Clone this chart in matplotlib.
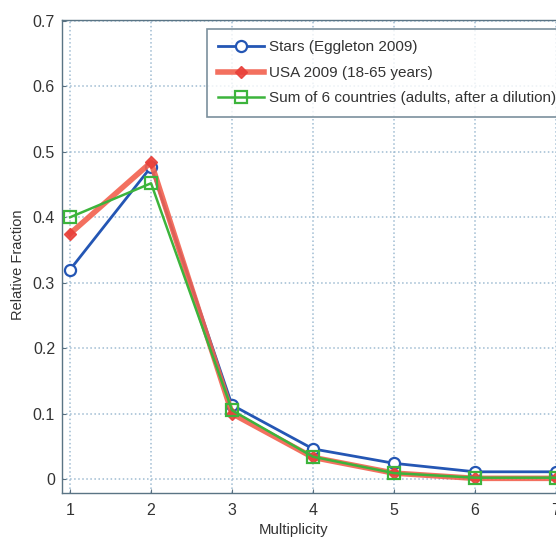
import matplotlib
matplotlib.use("Agg")
import matplotlib.pyplot as plt

multiplicity = [1, 2, 3, 4, 5, 6, 7]
stars = [0.320, 0.477, 0.113, 0.046, 0.024, 0.011, 0.011]
usa = [0.375, 0.484, 0.100, 0.033, 0.009, 0.001, 0.001]
six_countries = [0.400, 0.452, 0.105, 0.034, 0.009, 0.002, 0.002]
labels = ["Stars (Eggleton 2009)", "USA 2009 (18-65 years)",
          "Sum of 6 countries (adults, after a dilution)"]
xticks = [1, 2, 3, 4, 5, 6, 7]
yticks = [0, 0.1, 0.2, 0.3, 0.4, 0.5, 0.6, 0.7]

plt.rcParams['font.family'] = ['Liberation Sans', 'DejaVu Sans']

fig = plt.figure(figsize=(5.56, 5.41), dpi=100)
ax = fig.add_axes([62/556, 1-493/541, 502/556, 473/541])

ax.plot(multiplicity, stars, color='#2456b4', lw=2.0, marker='o', ms=8,
        mfc='white', mec='#2456b4', mew=1.6, label=labels[0], zorder=3)
ax.plot(multiplicity, usa, color='#f2604e', lw=4.0, marker='D', ms=6,
        mfc='#e8403a', mec='#e8403a', alpha=0.9, label=labels[1], zorder=4)
ax.plot(multiplicity, six_countries, color='#3cb43c', lw=1.8, marker='s', ms=8,
        mfc='none', mec='#3cb43c', mew=1.6, label=labels[2], zorder=5)

ax.set_xlim(0.9, 7.1)
ax.set_ylim(-0.0214, 0.7015)
ax.set_xticks(xticks)
ax.set_yticks(yticks)
ax.set_yticklabels([f"{v:g}" for v in yticks])
ax.tick_params(direction='in', length=3, colors='#5a7080', labelcolor='#333333',
               labelsize=11.5)
ax.tick_params(axis='x', pad=7)
ax.tick_params(axis='y', pad=5)

ax.grid(True, linestyle=':', color='#9fbcd2', linewidth=1.1)
ax.set_axisbelow(True)
for s in ax.spines.values():
    s.set_color('#5a7484')
    s.set_linewidth(1.0)

ax.set_ylabel("Relative Fraction", fontsize=10.5, color='#333333')
ax.yaxis.set_label_coords(-(62-18)/502, (493-265)/473)
ax.set_xlabel("Multiplicity", fontsize=10.8, color='#333333')
ax.xaxis.set_label_coords((294-62)/502, -(530-493)/473)
ax.xaxis.label.set_va('center')
ax.yaxis.label.set_va('center')

leg = fig.legend(loc='upper left', bbox_to_anchor=(207/556, 1-29/541),
                 fontsize=11, frameon=True, fancybox=False, handlelength=3.0,
                 handletextpad=0.3, labelspacing=0.75, borderpad=0.75,
                 borderaxespad=0)
leg.get_frame().set_edgecolor('#5a7484')
leg.get_frame().set_linewidth(1.2)
for t in leg.get_texts():
    t.set_color('#333333')

fig.savefig("out.png", dpi=100)
